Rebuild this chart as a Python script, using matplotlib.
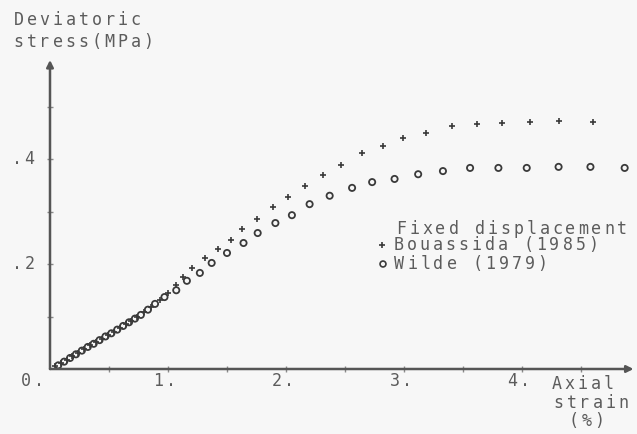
import matplotlib
matplotlib.use("Agg")
import matplotlib.pyplot as plt
import matplotlib.transforms as mtransforms

# Bouassida (1985), fixed displacement: axial strain (%), deviatoric stress (MPa)
bou_strain = [0.04, 0.09, 0.14, 0.19, 0.24, 0.29, 0.34, 0.39, 0.44, 0.49,
              0.54, 0.59, 0.64, 0.69, 0.74, 0.80, 0.86, 0.93, 1.00, 1.07,
              1.13, 1.20, 1.31, 1.42, 1.53, 1.63, 1.75, 1.89, 2.02, 2.16,
              2.31, 2.47, 2.64, 2.82, 2.99, 3.19, 3.41, 3.62, 3.83, 4.07,
              4.31, 4.60]
bou_stress = [0.006, 0.011, 0.018, 0.025, 0.031, 0.038, 0.045, 0.051, 0.058, 0.065,
              0.071, 0.078, 0.085, 0.092, 0.099, 0.108, 0.119, 0.131, 0.145, 0.160,
              0.175, 0.192, 0.211, 0.229, 0.246, 0.267, 0.286, 0.309, 0.328, 0.349,
              0.370, 0.389, 0.411, 0.425, 0.440, 0.450, 0.463, 0.467, 0.469, 0.470,
              0.472, 0.470]

# Wilde (1979)
wil_strain = [0.07, 0.12, 0.17, 0.22, 0.27, 0.32, 0.37, 0.42, 0.47, 0.52,
              0.57, 0.62, 0.67, 0.72, 0.77, 0.83, 0.89, 0.97, 1.07, 1.16,
              1.27, 1.37, 1.50, 1.64, 1.76, 1.91, 2.05, 2.20, 2.37, 2.56,
              2.73, 2.92, 3.12, 3.33, 3.56, 3.80, 4.04, 4.31, 4.58, 4.87]
wil_stress = [0.007, 0.014, 0.021, 0.028, 0.035, 0.042, 0.048, 0.055, 0.062, 0.068,
              0.075, 0.082, 0.089, 0.096, 0.103, 0.113, 0.124, 0.137, 0.150, 0.168,
              0.183, 0.202, 0.221, 0.240, 0.259, 0.278, 0.293, 0.314, 0.330, 0.345,
              0.356, 0.362, 0.371, 0.377, 0.383, 0.383, 0.383, 0.385, 0.385, 0.383]

x_ticks = [1, 2, 3, 4]
x_tick_labels = ["1.", "2.", "3.", "4."]
y_ticks = [0.2, 0.4]
y_tick_labels = [".2", ".4"]

W, H = 637, 434
TXT = "#5c5c5c"
INK = "#3a3a3a"
AX = "#555555"
MONO = "DejaVu Sans Mono"

fig = plt.figure(figsize=(W / 100, H / 100), dpi=100)
fig.patch.set_facecolor("#f7f7f7")
ax = fig.add_axes([50 / W, (H - 369) / H, 580 / W, 309 / H])
ax.set_facecolor("none")

xmax, ymax = 580 / 118, 309 / 525
ax.set_xlim(0, xmax)
ax.set_ylim(0, ymax)

ax.scatter(bou_strain, bou_stress, marker="+", s=20, color=INK, linewidths=1.2, zorder=3)
ax.scatter(wil_strain, wil_stress, marker="o", s=20, facecolors="none",
           edgecolors=INK, linewidths=1.3, zorder=3)

for side in ["top", "right", "left", "bottom"]:
    ax.spines[side].set_visible(False)

# axes drawn as arrows
arrow = dict(arrowstyle="-|>", color=AX, lw=1.8, mutation_scale=10, shrinkA=0, shrinkB=0)
ax.annotate("", xy=(0, ymax), xytext=(0, 0), arrowprops=arrow, annotation_clip=False)
ax.annotate("", xy=(xmax + 0.03, 0), xytext=(0, 0), arrowprops=arrow, annotation_clip=False)

ax.set_xticks([0.5, 1, 1.5, 2, 2.5, 3, 3.5, 4, 4.5])
ax.set_yticks([0.1, 0.2, 0.3, 0.4, 0.5])
ax.set_xticklabels([])
ax.set_yticklabels([])
ax.tick_params(direction="inout", length=5, width=1, color="#8a8a8a")

ident = mtransforms.IdentityTransform()


def spaced(x_left, y_top, s, pitch=13, size=12, color=TXT):
    # monospaced plotter lettering: place each char on a fixed pitch
    for i, ch in enumerate(s):
        fig.text(x_left + (i + 0.5) * pitch, H - y_top, ch, transform=ident,
                 ha="center", va="center", family=MONO, fontsize=size, color=color)


fig.canvas.draw()
for xv, lab in zip(x_ticks, x_tick_labels):
    px, py = ax.transData.transform((xv, 0))
    spaced(px - 3 - len(lab) * 13 / 2, 381, lab)
for yv, lab in zip(y_ticks, y_tick_labels):
    px, py = ax.transData.transform((0, yv))
    spaced(10, H - py, lab)
spaced(19, 381, "0.")

# axis titles
spaced(12, 20, "Deviatoric")
spaced(12, 42, "stress(MPa)")
spaced(550, 384, "Axial")
spaced(552, 403, "strain")
spaced(567, 421, "(%)")

# legend
spaced(395, 229, "Fixed displacement")
spaced(392, 245, "Bouassida (1985)")
spaced(393, 264, "Wilde (1979)")
ax.scatter([382], [H - 245], marker="+", s=20, color=INK, linewidths=1.2,
           transform=ident, clip_on=False)
ax.scatter([383], [H - 264], marker="o", s=18, facecolors="none", edgecolors=INK,
           linewidths=1.2, transform=ident, clip_on=False)

fig.savefig("out.png", dpi=100)
